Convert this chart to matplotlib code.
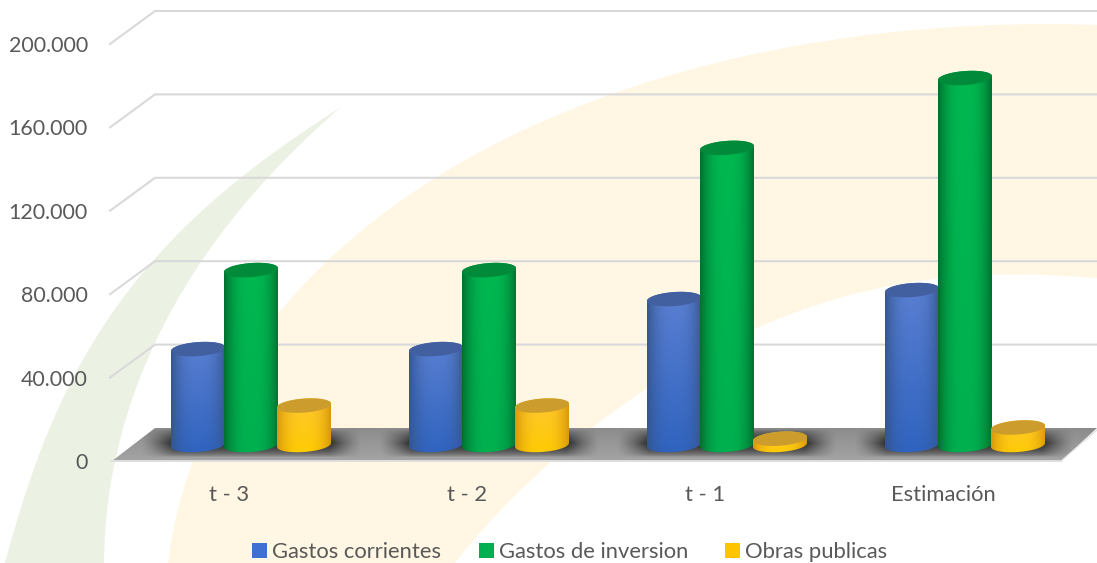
import numpy as np
import matplotlib
matplotlib.use("Agg")
import matplotlib.pyplot as plt
from matplotlib.patches import Polygon, Patch

categories = ["t - 3", "t - 2", "t - 1", "Estimación"]
gastos_corrientes = [46000, 46000, 70000, 74300]
gastos_inversion = [83900, 83900, 142500, 176000]
obras_publicas = [18900, 18900, 3000, 8400]
series_names = ["Gastos corrientes", "Gastos de inversion", "Obras publicas"]
y_ticks = [0, 40000, 80000, 120000, 160000, 200000]
y_labels = ["0", "40.000", "80.000", "120.000", "160.000", "200.000"]

W, H = 1097, 563
plt.rcParams["font.family"] = ["Lato", "DejaVu Sans"]
TXT = "#595959"
fig = plt.figure(figsize=(W / 100, H / 100), dpi=100, facecolor="white")

# ---- decorative background, in pixel coordinates
bg = fig.add_axes([0, 0, 1, 1], zorder=0)
bg.set_xlim(0, W); bg.set_ylim(H, 0); bg.axis("off")


def smooth(pts, deg=5, n=160):
    p = np.array(pts, float)
    s = np.r_[0, np.cumsum(np.hypot(*np.diff(p, axis=0).T))]
    s = s / s[-1]
    w = np.ones(len(p)); w[[0, -1]] = 20
    fx = np.polyfit(s, p[:, 0], deg, w=w)
    fy = np.polyfit(s, p[:, 1], deg, w=w)
    t = np.linspace(0, 1, n)
    return np.c_[np.polyval(fx, t), np.polyval(fy, t)]


cream_outer = [(168, 563), (193, 467), (240, 365), (304, 280), (357, 233), (429, 187),
               (540, 123), (629, 87), (753, 53), (895, 33), (1097, 25)]
cream_inner = [(1097, 278), (1002, 275), (931, 280), (860, 290), (789, 317), (753, 330),
               (650, 385), (560, 455), (482, 530), (455, 563)]
bg.add_patch(Polygon(np.vstack([smooth(cream_outer), smooth(cream_inner)]), closed=True,
                     fc="#FFF7E3", ec="none"))
green_outer = [(5, 563), (36, 467), (71, 377), (118, 307), (154, 260), (179, 233),
               (250, 170), (341, 107)]
green_inner = [(341, 107), (296, 150), (250, 193), (207, 260), (150, 347), (121, 440),
               (107, 513), (104, 563)]
bg.add_patch(Polygon(np.vstack([smooth(green_outer, 4), smooth(green_inner, 4)]),
                     closed=True, fc="#EBF1E3", ec="none"))

# ---- chart axes: plot box is the front face of the 3D frame
L, R, B, T = 112, 1097, 461, 44
ax = fig.add_axes([L / W, 1 - B / H, (R - L) / W, (B - T) / H], zorder=1)
ax.patch.set_alpha(0)
GAP = 238.0
x0 = 251.0
xlim = ((L - x0) / GAP, (R - x0) / GAP)
ylim = (0, 200000)
UX = GAP               # px per category unit
UY = (B - T) / 200000  # px per value unit
for s in ax.spines.values():
    s.set_visible(False)


def dx(px):
    return px / UX


def dy(px):
    return px / UY


# gridlines on back walls
DX, DY = 45, 33
for v in y_ticks[1:]:
    ax.plot([dx(110 - x0), dx(155 - x0), xlim[1]],
            [v, v + dy(DY), v + dy(DY)], color="#D9D9D9", lw=1.5, clip_on=False, zorder=1,
            solid_joinstyle="miter")

# floor with shadows (image clipped to a parallelogram)
ys = np.linspace(462, 427, 70)
xs = np.linspace(110, W, 988)
XX, YY = np.meshgrid(xs, ys)
base = 0x8C + (YY - 428) / 33 * 0x18
sh = np.zeros_like(XX)
for i in range(len(categories)):
    cx = x0 + i * GAP
    sx = np.clip(1 - np.maximum(np.abs(XX - cx) - 78, 0) / 32, 0, 1) ** 1.3
    sy = np.clip(1 - np.abs(YY - 443) / 14, 0, 1)
    sh = np.maximum(sh, sx * sy ** 0.6)
g = (base * (1 - sh) + 0x2A * sh) / 255
ext = (dx(110 - x0), dx(W - x0), dy(461 - 462), dy(461 - 427))
im = ax.imshow(np.clip(g, 0, 1), cmap="gray", vmin=0, vmax=1, extent=ext, origin="lower",
               aspect="auto", zorder=2, interpolation="bilinear")
floor = Polygon([(dx(112 - x0), 0), (dx(1061 - x0), 0), (dx(1097 - x0), dy(33)), (dx(155 - x0), dy(33))],
                closed=True, transform=ax.transData, fc="none", ec="none")
ax.add_patch(floor)
im.set_clip_path(floor)
ax.plot([dx(112 - x0), dx(1061 - x0)], [0, 0], color="#DEDEDE", lw=1.4, zorder=3, clip_on=False)
ax.plot([dx(1061 - x0), xlim[1]], [0, dy(31)], color="#DEDEDE", lw=0.8, zorder=3, clip_on=False)

# cylinders
DEPTH = 16          # base centre sits 16 px behind the front edge
A, Bb = 27.0, 7.0   # ellipse half axes, px
SL = 0.07           # ellipse tilt, right side higher


def hexc(h):
    return np.array([int(h[i:i + 2], 16) for i in (1, 3, 5)]) / 255


STY = [
    dict(topc="#5B80D2", botc="#2F63BF", edge="#35568F", cap="#425F9F"),
    dict(topc="#00B850", botc="#00B050", edge="#006F30", cap="#008A3A"),
    dict(topc="#FFC635", botc="#FFCC00", edge="#D8980C", cap="#CC9C2C"),
]


def cylinder(xc, v, sty, z):
    ybase = dy(DEPTH)
    ytop = v + ybase
    # body outline: lower half of base, upper half of top
    tb = np.linspace(np.pi, 2 * np.pi, 40)
    bx = A * np.cos(tb)
    by = Bb * np.sin(tb) + SL * bx
    tt = np.linspace(0, np.pi, 40)
    ux = A * np.cos(tt)
    uy = Bb * np.sin(tt) + SL * ux
    vx = np.concatenate([xc + dx(bx), xc + dx(ux)])
    vy = np.concatenate([ybase + dy(by), ytop + dy(uy)])
    path = Polygon(np.c_[vx, vy], closed=True, fc="none", ec="none", transform=ax.transData, zorder=z)
    ax.add_patch(path)
    nx, ny = 110, 60
    u = np.linspace(-1, 1, nx)
    shade = (np.abs(u) ** 2.6)[None, :, None]
    w = np.linspace(0, 1, ny)[:, None, None]
    bodyc = hexc(sty["botc"]) + (hexc(sty["topc"]) - hexc(sty["botc"])) * w
    rgb = bodyc * (1 - shade) + hexc(sty["edge"]) * shade
    pad_y = dy(Bb + 4)
    body = ax.imshow(np.clip(rgb, 0, 1), extent=(xc - dx(A), xc + dx(A), ybase - pad_y, ytop + pad_y),
                     origin="lower", aspect="auto", zorder=z, interpolation="bilinear")
    body.set_clip_path(path)
    t = np.linspace(0, 2 * np.pi, 90)
    ex = A * np.cos(t)
    ey = Bb * np.sin(t) + SL * ex
    ax.fill(xc + dx(ex), ytop + dy(ey), color=sty["cap"], lw=0, zorder=z + 0.1)


groups = [gastos_corrientes, gastos_inversion, obras_publicas]
offs = [-53, 0, 53]
for i in range(len(categories)):
    for k, vals in enumerate(groups):
        cylinder(i + dx(offs[k]), vals[i], STY[k], 5 + i * 3 + k)

ax.set_xlim(*xlim)
ax.set_ylim(*ylim)
ax.set_xticks([i - dx(22) for i in range(len(categories))], categories)
ax.set_yticks(y_ticks, y_labels)
ax.tick_params(axis="y", length=0, pad=17.3, labelsize=15.4, labelcolor=TXT)
ax.tick_params(axis="x", length=0, pad=17, labelsize=15.8, labelcolor=TXT)

handles = [Patch(fc="#3F6FD0", ec="none"), Patch(fc="#00B050", ec="none"), Patch(fc="#FFC400", ec="none")]
fig.legend(handles, series_names, ncol=3, loc="center", bbox_to_anchor=(570 / W, 1 - 552 / H),
           frameon=False, fontsize=15.8, labelcolor=TXT, handlelength=0.68, handleheight=0.64,
           handletextpad=0.23, columnspacing=1.7, borderpad=0, borderaxespad=0)

fig.savefig("out.png", dpi=100)
